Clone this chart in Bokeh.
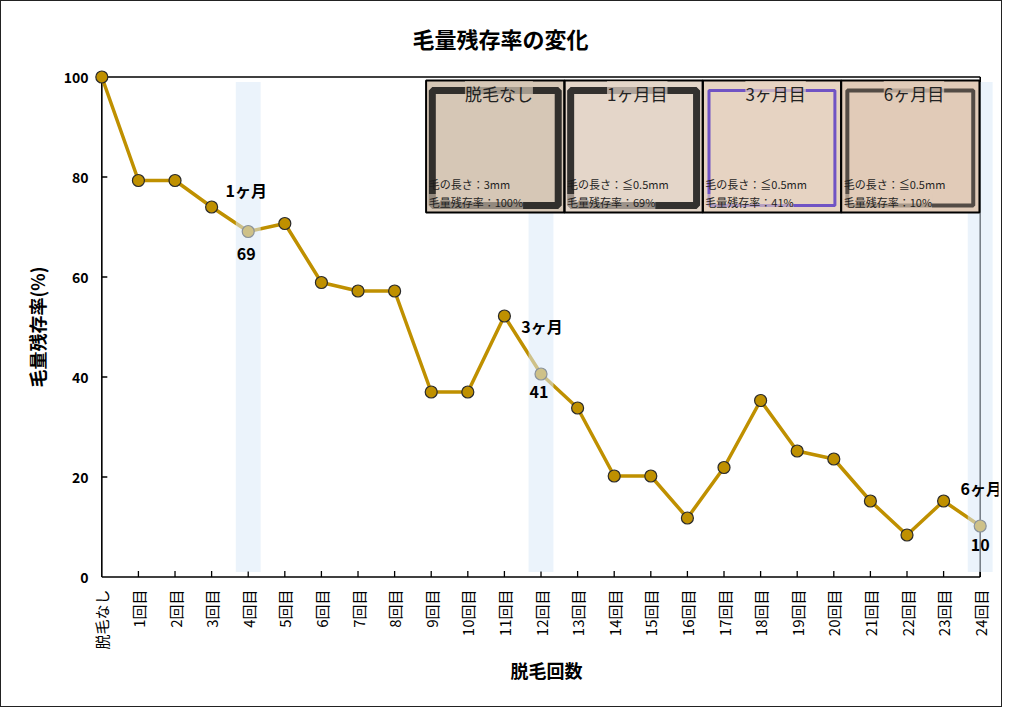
import math
from bokeh.plotting import figure
from bokeh.models import Range1d, FixedTicker
from bokeh.core.properties import value
from bokeh.embed import file_html
from bokeh.resources import INLINE

# ---------------- data ----------------
TITLE = "毛量残存率の変化"
X_TITLE = "脱毛回数"
Y_TITLE = "毛量残存率(%)"

sessions = ["脱毛なし", "1回目", "2回目", "3回目", "4回目", "5回目", "6回目", "7回目",
            "8回目", "9回目", "10回目", "11回目", "12回目", "13回目", "14回目", "15回目",
            "16回目", "17回目", "18回目", "19回目", "20回目", "21回目", "22回目", "23回目",
            "24回目"]
residual = [100, 79.3, 79.3, 74.0, 69.1, 70.7, 58.9, 57.2, 57.2, 37.0, 37.0, 52.2,
            40.6, 33.8, 20.2, 20.2, 11.8, 21.9, 35.3, 25.2, 23.6, 15.2, 8.4, 15.2, 10.2]
y_ticks = [0, 20, 40, 60, 80, 100]

milestone_idx = [4, 12, 24]
milestone_names = ["1ヶ月", "3ヶ月", "6ヶ月"]
milestone_values = ["69", "41", "10"]

photo_titles = ["脱毛なし", "1ヶ月目", "3ヶ月目", "6ヶ月目"]
photo_length = ["毛の長さ：3mm", "毛の長さ：≦0.5mm", "毛の長さ：≦0.5mm", "毛の長さ：≦0.5mm"]
photo_rate = ["毛量残存率：100%", "毛量残存率：69%", "毛量残存率：41%", "毛量残存率：10%"]

# ---------------- style ----------------
GOLD = "#BF9000"
FONT = "Noto Sans CJK JP"
BAND = "#DBE9F8"
skin = ["#D6C7B6", "#E4D6C9", "#E6D3C2", "#E1CBB8"]
marker_col = ["#141414", "#141414", "#5B3CC4", "#3a3530"]
marker_w = [7, 7, 3, 4]

xs = list(range(len(sessions)))
x_last = xs[-1]
y_min, y_max = y_ticks[0], y_ticks[-1]

p = figure(frame_width=904, frame_height=515,
           min_border_left=93, min_border_right=3, min_border_top=68, min_border_bottom=122,
           x_range=Range1d(-0.2, x_last + 0.5), y_range=Range1d(y_min - 1.5, y_max + 1.5),
           output_backend="svg", toolbar_location=None,
           background_fill_color="white", border_fill_color="white",
           outline_line_color=None)
p.styles = {"border": "1.5px solid #222"}
p.grid.visible = False

# title
p.title.text = TITLE
p.title.align = "left"
p.title.offset = 318
p.title.standoff = 32
p.title.text_font = FONT
p.title.text_font_size = "22px"
p.title.text_font_style = "bold"
p.title.text_color = "black"

# axes
for ax in (p.xaxis, p.yaxis):
    ax.axis_line_color = None
    ax.major_tick_line_color = None
    ax.minor_tick_line_color = None
    ax.major_tick_in = 0
    ax.major_tick_out = 0
    ax.major_label_text_font = FONT
    ax.major_label_text_color = "black"
    ax.axis_label_text_font = FONT
    ax.axis_label_text_font_style = "bold"
    ax.axis_label_text_font_size = "18px"
    ax.axis_label_text_color = "black"

p.xaxis.ticker = FixedTicker(ticks=xs)
p.xaxis.major_label_overrides = {i: s for i, s in enumerate(sessions)}
p.xaxis.major_label_orientation = math.pi / 2
p.xaxis.major_label_text_font_size = "15px"
p.xaxis.major_label_standoff = 5
p.xaxis.axis_label = X_TITLE
p.xaxis.axis_label_standoff = 4

p.yaxis.ticker = FixedTicker(ticks=y_ticks)
p.yaxis.major_label_text_font_size = "14px"
p.yaxis.major_label_text_font_style = "bold"
p.yaxis.major_label_standoff = 6
p.yaxis.axis_label = Y_TITLE
p.yaxis.axis_label_standoff = 11

# plot frame lines (axes drawn at data extents)
p.segment(x0=[0, 0, 0, x_last], y0=[y_min, y_max, y_min, y_min],
          x1=[x_last, x_last, 0, x_last], y1=[y_min, y_max, y_max, y_max],
          line_color="black", line_width=1.6)
# inward ticks
p.segment(x0=xs[1:], y0=[y_min] * (len(xs) - 1), x1=xs[1:], y1=[y_min + 1.2] * (len(xs) - 1),
          line_color="black", line_width=1.3)
p.segment(x0=[0] * (len(y_ticks) - 2), y0=y_ticks[1:-1], x1=[0.15] * (len(y_ticks) - 2),
          y1=y_ticks[1:-1], line_color="black", line_width=1.3)

# data line and points
p.line(xs, residual, line_color=GOLD, line_width=3.5)
p.scatter(xs, residual, size=12, fill_color=GOLD, line_color="#2a2a2a", line_width=1.2)

# highlight bands (translucent, drawn on top)
p.quad(left=[i - 0.34 for i in milestone_idx], right=[i + 0.34 for i in milestone_idx],
       bottom=y_min + 1, top=y_max - 1, fill_color=BAND, fill_alpha=0.55, line_color=None)

# milestone annotations
mx = milestone_idx
my = [residual[i] for i in mx]
p.text(x=mx, y=my, text=milestone_names, x_offset=[-2, 1, 1], y_offset=[-42, -48, -38],
       text_align="center", text_baseline="middle", text_font=value(FONT),
       text_font_size="16px", text_font_style="bold", text_color="black")
p.text(x=mx, y=my, text=milestone_values, x_offset=[-2, -2, 0], y_offset=[22, 18, 19],
       text_align="center", text_baseline="middle", text_font=value(FONT),
       text_font_size="16px", text_font_style="bold", text_color="black")

# photo strip (illustrative panels)
ph_left, ph_w, ph_top, ph_bot = 8.86, 3.78, 99.3, 72.9
lefts = [ph_left + k * ph_w for k in range(4)]
rights = [l + ph_w for l in lefts]
p.quad(left=lefts, right=rights, bottom=ph_bot, top=ph_top, fill_color=skin,
       line_color=None)
p.quad(left=[l + 0.17 for l in lefts], right=[r - 0.17 for r in rights],
       bottom=ph_bot + 1.4, top=ph_top - 2.0, fill_color=None,
       line_color=marker_col, line_width=marker_w, line_alpha=0.85)
p.quad(left=lefts, right=rights, bottom=ph_bot, top=ph_top, fill_color=None,
       line_color="black", line_width=2)
centers = [l + ph_w / 2 + 0.1 for l in lefts]
p.text(x=centers, y=[ph_top - 2.6] * 4, text=photo_titles, text_align="center",
       text_baseline="middle", text_font=value(FONT), text_font_size="17px",
       text_color="#222222", background_fill_color=skin, background_fill_alpha=0.7)
p.text(x=[l + 0.07 for l in lefts], y=[ph_bot + 5.8] * 4, text=photo_length,
       text_align="left", text_baseline="middle", text_font=value(FONT),
       text_font_size="11px", text_color="#1e1e1e")
p.text(x=[l + 0.07 for l in lefts], y=[ph_bot + 2.1] * 4, text=photo_rate,
       text_align="left", text_baseline="middle", text_font=value(FONT),
       text_font_size="11px", text_color="#1e1e1e",
       background_fill_color=skin, background_fill_alpha=0.6)

open("out.html", "w").write(file_html(p, INLINE))
